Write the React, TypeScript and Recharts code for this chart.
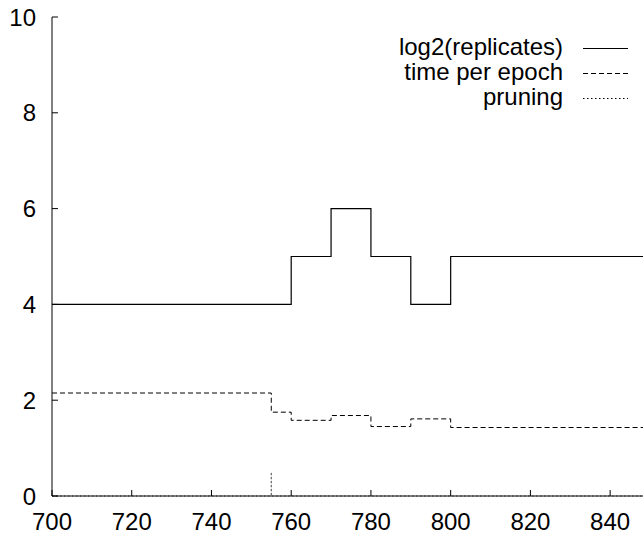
import React from "react";
import { LineChart, Line, XAxis, YAxis } from "recharts";

// log2(replicates) step series
const replicatesX = [700, 760, 770, 780, 790, 800, 850];
const replicatesY = [4, 5, 6, 5, 4, 5, 5];

// time per epoch step series
const epochX = [700, 755, 760, 770, 780, 790, 800, 850];
const epochY = [2.15, 1.75, 1.58, 1.68, 1.45, 1.61, 1.43, 1.43];

// pruning impulse
const pruningX = [700, 755, 755, 755, 850];
const pruningY = [0, 0, 0.5, 0, 0];

const xTicks = [700, 720, 740, 760, 780, 800, 820, 840];
const yTicks = [0, 2, 4, 6, 8, 10];

const toPoints = (xs: number[], ys: number[]) => xs.map((x, i) => ({ x, y: ys[i] }));

const replicatesData = toPoints(replicatesX, replicatesY);
const epochData = toPoints(epochX, epochY);
const pruningData = toPoints(pruningX, pruningY);

const font = "'Liberation Sans', Arial, Helvetica, sans-serif";
const TICK = 6;

const legendItems = [
  { name: "log2(replicates)", dash: undefined },
  { name: "time per epoch", dash: "5 3" },
  { name: "pruning", dash: "1.5 2.5" },
];

const BottomTick: React.FC<any> = ({ x, y, payload }) => (
  <g>
    <line x1={x} y1={y} x2={x} y2={y - TICK} stroke="#000" />
    <text x={x} y={y + 34} textAnchor="middle" fontSize={24} fontFamily={font} fill="#000">
      {payload.value}
    </text>
  </g>
);

const TopTick: React.FC<any> = ({ x, y }) => (
  <line x1={x} y1={y} x2={x} y2={y + TICK} stroke="#000" />
);

const LeftTick: React.FC<any> = ({ x, y, payload }) => (
  <g>
    <line x1={x} y1={y} x2={x + TICK} y2={y} stroke="#000" />
    <text x={x - 16} y={y + 8.5} textAnchor="end" fontSize={24} fontFamily={font} fill="#000">
      {payload.value}
    </text>
  </g>
);

const RightTick: React.FC<any> = ({ x, y }) => (
  <line x1={x} y1={y} x2={x - TICK} y2={y} stroke="#000" />
);

const App: React.FC = () => {
  return (
    <div style={{ position: "fixed", left: 0, top: 0, width: 643, height: 534, overflow: "hidden", background: "#fff" }}>
      <LineChart width={680} height={534} margin={{ top: 17, right: 30, bottom: 0, left: 0 }}>
        <XAxis
          xAxisId="bottom"
          type="number"
          dataKey="x"
          domain={[700, 850]}
          ticks={xTicks}
          interval={0}
          height={38}
          tickSize={0}
          tickMargin={0}
          tick={<BottomTick />}
          axisLine={{ stroke: "#000" }}
          allowDataOverflow
        />
        <XAxis
          xAxisId="top"
          orientation="top"
          type="number"
          dataKey="x"
          domain={[700, 850]}
          ticks={xTicks}
          interval={0}
          height={0}
          tickSize={0}
          tickMargin={0}
          tick={<TopTick />}
          axisLine={{ stroke: "#000" }}
        />
        <YAxis
          yAxisId="left"
          type="number"
          domain={[0, 10]}
          ticks={yTicks}
          interval={0}
          width={52}
          tickSize={0}
          tickMargin={0}
          tick={<LeftTick />}
          axisLine={{ stroke: "#000" }}
        />
        <YAxis
          yAxisId="right"
          orientation="right"
          type="number"
          domain={[0, 10]}
          ticks={yTicks}
          interval={0}
          width={0}
          tickSize={0}
          tickMargin={0}
          tick={<RightTick />}
          axisLine={{ stroke: "#000" }}
        />
        <Line
          xAxisId="bottom"
          yAxisId="left"
          data={replicatesData}
          dataKey="y"
          name="log2(replicates)"
          type="stepAfter"
          stroke="#000"
          strokeWidth={1.2}
          dot={false}
          activeDot={false}
          isAnimationActive={false}
        />
        <Line
          xAxisId="bottom"
          yAxisId="left"
          data={epochData}
          dataKey="y"
          name="time per epoch"
          type="stepAfter"
          stroke="#000"
          strokeWidth={1}
          strokeDasharray="5 3"
          dot={false}
          activeDot={false}
          isAnimationActive={false}
        />
        <Line
          xAxisId="bottom"
          yAxisId="left"
          data={pruningData}
          dataKey="y"
          name="pruning"
          type="linear"
          stroke="#555"
          strokeWidth={1}
          strokeDasharray="1.5 2.5"
          dot={false}
          activeDot={false}
          isAnimationActive={false}
        />
      </LineChart>
      <div
        style={{
          position: "absolute",
          top: 34,
          right: 14,
          fontFamily: font,
          fontSize: 24,
          lineHeight: "25px",
          color: "#000",
        }}
      >
        {legendItems.map((item) => (
          <div key={item.name} style={{ display: "flex", justifyContent: "flex-end", alignItems: "flex-start", height: 25 }}>
            <span style={{ whiteSpace: "nowrap" }}>{item.name}</span>
            <svg width={66} height={25} style={{ display: "block" }}>
              <line x1={20} y1={14.5} x2={65} y2={14.5} stroke="#000" strokeWidth={1} strokeDasharray={item.dash} />
            </svg>
          </div>
        ))}
      </div>
    </div>
  );
};

export default App;
